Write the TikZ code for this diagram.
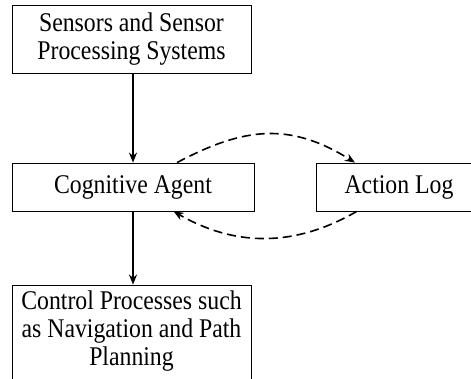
\documentclass[tikz,border=0pt]{standalone}
\usepackage{fontspec}
\setmainfont[FakeStretch=0.88]{Liberation Serif}
\usetikzlibrary{arrows.meta}
\begin{document}
\begin{tikzpicture}[x=1pt,y=-1pt,
  box/.style={draw, line width=0.8pt, rectangle, inner sep=0pt, align=center,
    font=\fontsize{27}{28}\selectfont},
  txt/.style={inner sep=0pt, align=center, font=\fontsize{27}{28}\selectfont},
  flow/.style={line width=1.6pt, -{Stealth[length=10pt,width=8pt]}},
  loop/.style={line width=1.6pt, dash pattern=on 9pt off 5pt, -{Stealth[length=10pt,width=8pt]}}]
\useasboundingbox (0,0) rectangle (471,379);
\clip (0,0) rectangle (471,379);
\node[box, minimum width=239pt, minimum height=68pt] (sens) at (131.5,39) {Sensors and Sensor\\Processing Systems};
\node[box, minimum width=242pt, minimum height=48pt] (cog) at (133,187) {Cognitive Agent};
\node[box, minimum width=166pt, minimum height=48pt] (act) at (399,187) {Action Log};
\node[box, minimum width=239pt, minimum height=100pt] (ctrl) at (131.5,335) {};
\node[txt] (ctrltxt) at (131.5,331) {Control Processes such\\as Navigation and Path\\Planning};
\draw[flow] (sens.south -| cog.north) -- (cog.north);
\draw[flow] (cog.south) -- (cog.south |- ctrl.north);
\draw[loop] (cog.29.7) to[out=28,in=148,looseness=1.1] (act.151.4);
\draw[loop] (act.210.8) to[out=210,in=330,looseness=1.0] (cog.329.4);
\end{tikzpicture}
\end{document}
